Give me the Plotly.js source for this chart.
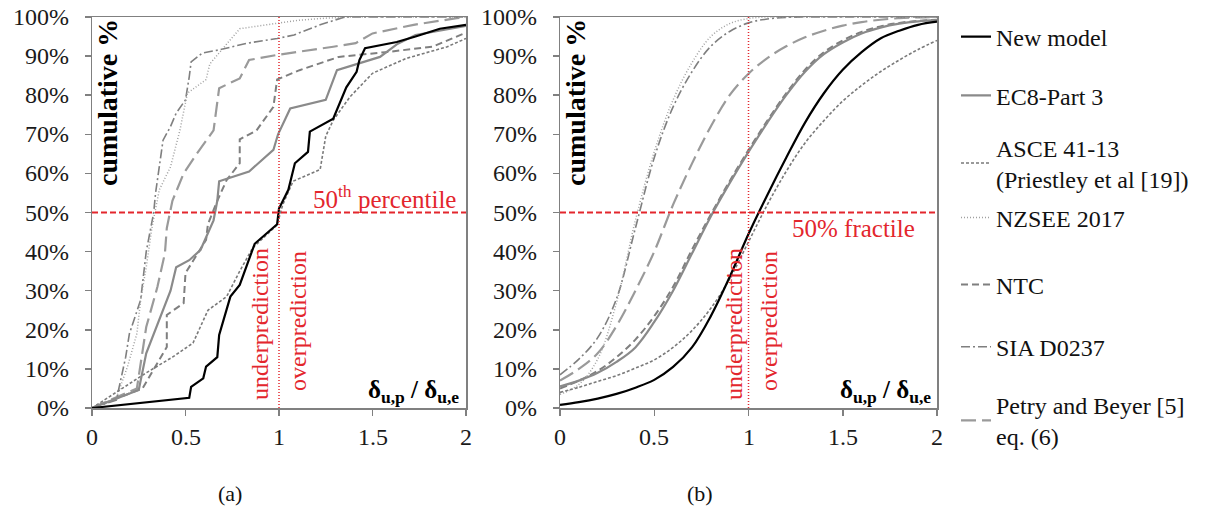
<!DOCTYPE html>
<html>
<head>
<meta charset="utf-8">
<script src="https://cdn.plot.ly/plotly-3.0.1.min.js"></script>
<style>html,body{margin:0;padding:0;background:#fff;}#chart{width:1215px;height:515px;}</style>
</head>
<body>
<div id="chart"></div>
<script>
// ---------- Data ----------
const seriesNames = ["New model", "EC8-Part 3", "ASCE 41-13<br>(Priestley et al [19])", "NZSEE 2017", "NTC", "SIA D0237", "Petry and Beyer [5]<br>eq. (6)"];
const xTickVals = [0, 0.5, 1, 1.5, 2];
const xTickText = ["0", "0.5", "1", "1.5", "2"];
const yTickVals = [0, 10, 20, 30, 40, 50, 60, 70, 80, 90, 100];
const yTickText = ["0%", "10%", "20%", "30%", "40%", "50%", "60%", "70%", "80%", "90%", "100%"];
const refRatio = 1;      // δu,p/δu,e = 1
const refFractile = 50;  // 50 %

// Panel (a): empirical cumulative distributions
const newModelA_x = [0, 0.52, 0.53, 0.595, 0.61, 0.67, 0.68, 0.74, 0.79, 0.87, 0.99, 1.0, 1.05, 1.085, 1.155, 1.165, 1.29, 1.36, 1.415, 1.43, 1.46, 1.63, 1.73, 1.86, 2.0];
const newModelA_y = [0, 2.6, 5.4, 7.6, 10.6, 13, 18.7, 28.5, 31.5, 42, 47, 51, 55.8, 62.6, 65.5, 70.7, 74, 82, 86, 89, 92, 93.6, 95, 97, 98];
const ec8A_x = [0, 0.25, 0.29, 0.36, 0.42, 0.45, 0.52, 0.58, 0.65, 0.67, 0.68, 0.84, 0.97, 0.995, 1.06, 1.25, 1.31, 1.54, 1.63, 1.73, 2.0];
const ec8A_y = [0, 4.6, 14, 22.5, 30, 36, 37.8, 40.4, 48, 53, 58, 60.5, 66, 70, 76.6, 78.8, 86.4, 89.8, 93, 95.4, 97.7];
const asceA_x = [0, 0.29, 0.43, 0.54, 0.62, 0.72, 0.79, 0.86, 0.99, 1.02, 1.075, 1.22, 1.25, 1.29, 1.38, 1.5, 1.68, 1.9, 2.0];
const asceA_y = [0, 9, 13, 16.6, 25, 28.5, 35, 41, 46.8, 52, 58, 61, 69.5, 73.6, 79.6, 85.6, 89.4, 92.4, 94.5];
const nzseeA_x = [0, 0.13, 0.19, 0.24, 0.26, 0.29, 0.32, 0.35, 0.36, 0.42, 0.47, 0.51, 0.61, 0.63, 0.79, 0.99, 1.11, 1.25, 1.4, 2.0];
const nzseeA_y = [0, 2.5, 10.6, 19, 27.6, 36, 46, 53, 55.8, 61.7, 71, 80.5, 84, 88, 97, 98.4, 99.2, 99.7, 100, 100];
const ntcA_x = [0, 0.27, 0.40, 0.40, 0.49, 0.5, 0.61, 0.62, 0.67, 0.72, 0.79, 0.79, 0.88, 0.97, 0.99, 1.11, 1.32, 1.57, 1.82, 1.93, 2.0];
const ntcA_y = [0, 5, 15.6, 23.8, 26.8, 34.5, 43, 47, 53, 58.3, 62.6, 68.7, 71, 77, 84, 86.4, 89.8, 91, 92.4, 94.5, 96];
const siaA_x = [0, 0.13, 0.18, 0.2, 0.26, 0.29, 0.33, 0.34, 0.38, 0.42, 0.45, 0.5, 0.52, 0.53, 0.59, 0.68, 0.83, 0.99, 1.08, 1.22, 1.35, 2.0];
const siaA_y = [0, 2, 13, 19, 27.6, 40, 50, 55, 68.5, 72, 75.4, 78.8, 84.7, 88.5, 90.8, 91.6, 93.3, 94.5, 95.4, 98, 100, 100];
const petryA_x = [0, 0.24, 0.29, 0.35, 0.39, 0.40, 0.43, 0.49, 0.56, 0.65, 0.68, 0.79, 0.84, 0.99, 1.29, 1.41, 1.5, 1.72, 1.95, 2.0];
const petryA_y = [0, 5, 20.7, 31, 39.6, 46, 53, 60, 65, 71, 81.8, 84.3, 89, 90.3, 92.4, 93.3, 95.8, 98, 99.7, 100];

// Panel (b): fitted cumulative distributions
const ratioB = [0, 0.1, 0.2, 0.3, 0.4, 0.5, 0.6, 0.7, 0.8, 0.9, 1.0, 1.1, 1.2, 1.3, 1.4, 1.5, 1.6, 1.7, 1.8, 1.9, 2.0];
const newModelB = [0.8, 1.5, 2.4, 3.6, 5.2, 7.2, 10.5, 15.5, 23.5, 33.5, 44.5, 54.5, 64, 73, 80.5, 86.5, 91, 94.5, 96.5, 98, 98.8];
const ec8B = [5.5, 7, 9, 11.8, 15.5, 22, 30, 39.5, 49, 57.5, 65.5, 73, 80, 86, 90.5, 93.5, 95.8, 97.3, 98.3, 98.9, 99.2];
const asceB = [4, 5.3, 6.8, 8.3, 10.2, 12.3, 15.5, 19.8, 25.5, 33, 42.5, 52, 60.5, 67.8, 73.5, 78.5, 82.5, 86, 89, 91.7, 94];
const nzseeB = [3.5, 6, 12.5, 27, 48, 65.5, 78.8, 88.3, 95, 98.3, 99.6, 100, 100, 100, 100, 100, 100, 100, 100, 100, 100];
const ntcB = [5, 7, 9.5, 13, 17.5, 23.5, 31, 40.5, 49.5, 58, 66, 73.5, 80.5, 86.5, 91, 94, 96.2, 97.6, 98.5, 99, 99.3];
const siaB = [8.5, 12.5, 18, 28, 46, 64, 77, 86, 92.5, 96.3, 98.5, 99.5, 99.9, 100, 100, 100, 100, 100, 100, 100, 100];
const petryB = [7, 10, 14, 21, 30, 40, 52, 62.5, 72, 80, 85.5, 89.5, 92.5, 94.8, 96.5, 97.8, 98.7, 99.3, 99.7, 99.9, 100];

// ---------- Styles ----------
const styles = [
  {color: "#000000", width: 2.2, dash: "solid"},
  {color: "#8a8a8a", width: 2.2, dash: "solid"},
  {color: "#7a7a7a", width: 1.6, dash: "3px,2px"},
  {color: "#a0a0a0", width: 1.5, dash: "1px,2px"},
  {color: "#7f7f7f", width: 2, dash: "7px,4px"},
  {color: "#7f7f7f", width: 1.6, dash: "9px,3px,2px,3px"},
  {color: "#9a9a9a", width: 2.2, dash: "15px,6px"}
];
const dataA = [[newModelA_x, newModelA_y], [ec8A_x, ec8A_y], [asceA_x, asceA_y], [nzseeA_x, nzseeA_y], [ntcA_x, ntcA_y], [siaA_x, siaA_y], [petryA_x, petryA_y]];
const dataB = [newModelB, ec8B, asceB, nzseeB, ntcB, siaB, petryB];
const drawOrder = [6, 5, 4, 3, 2, 1, 0];
const legendIds = ["legend", "legend2", "legend3", "legend4", "legend5", "legend6", "legend7"];
const legendY = [0.928, 0.814, 0.683, 0.577, 0.447, 0.326, 0.183];

const traces = [];
drawOrder.forEach(i => {
  traces.push({
    x: dataA[i][0], y: dataA[i][1], xaxis: "x", yaxis: "y", mode: "lines",
    name: seriesNames[i], legend: legendIds[i], showlegend: true,
    line: {color: styles[i].color, width: styles[i].width, dash: styles[i].dash}, hoverinfo: "skip"
  });
});
drawOrder.forEach(i => {
  traces.push({
    x: ratioB, y: dataB[i], xaxis: "x2", yaxis: "y2", mode: "lines",
    name: seriesNames[i], showlegend: false,
    line: {color: styles[i].color, width: styles[i].width, dash: styles[i].dash, shape: "spline", smoothing: 1}, hoverinfo: "skip"
  });
});

const serif = '"Liberation Serif", "Times New Roman", serif';
const red = "#e3262d";
const tickFont = {family: serif, size: 24, color: "#1a1a1a"};
const axisCommon = {
  showgrid: false, zeroline: false, showline: true, linecolor: "#808080", linewidth: 1.5, mirror: true,
  ticks: "outside", ticklen: 6, tickcolor: "#808080", tickwidth: 1.5,
  tickfont: tickFont, fixedrange: true, showticklabels: false
};
const xAx = Object.assign({}, axisCommon, {range: [0, 2], tickmode: "array", tickvals: xTickVals, ticktext: xTickText});
const yAx = Object.assign({}, axisCommon, {range: [0, 100], tickmode: "array", tickvals: yTickVals, ticktext: yTickText});

const layout = {
  width: 1215, height: 515, margin: {l: 0, r: 0, t: 0, b: 0},
  font: {family: serif},
  paper_bgcolor: "#ffffff", plot_bgcolor: "#ffffff", showlegend: true,
  xaxis: Object.assign({}, xAx, {domain: [92/1215, 466/1215], anchor: "y"}),
  yaxis: Object.assign({}, yAx, {domain: [1 - 408/515, 1 - 17/515], anchor: "x"}),
  xaxis2: Object.assign({}, xAx, {domain: [560/1215, 937/1215], anchor: "y2"}),
  yaxis2: Object.assign({}, yAx, {domain: [1 - 408/515, 1 - 17/515], anchor: "x2"}),
  shapes: [],
  annotations: []
};
legendIds.forEach((id, i) => {
  layout[id] = {x: 956/1215, xanchor: "left", y: legendY[i], yanchor: "middle", bgcolor: "rgba(0,0,0,0)",
    font: {family: serif, size: 24, color: "#111"}, itemwidth: 30};
});
[["x", "y"], ["x2", "y2"]].forEach(([xa, ya]) => {
  layout.shapes.push({type: "line", xref: xa, yref: ya, x0: 0, x1: 2, y0: refFractile, y1: refFractile, layer: "above",
    line: {color: red, width: 1.8, dash: "6px,3px"}});
  layout.shapes.push({type: "line", xref: xa, yref: ya, x0: refRatio, x1: refRatio, y0: 0, y1: 100, layer: "above",
    line: {color: red, width: 1.5, dash: "1px,2px"}});
});
function ann(text, x, y, opts) {
  return Object.assign({text: text, xref: "paper", yref: "paper", x: x, y: y, showarrow: false,
    xanchor: "center", yanchor: "middle", font: {family: serif, size: 24, color: "#111"}}, opts || {});
}
const A = layout.annotations;
// tick labels, placed through the axes' own scales
["x", "x2"].forEach(xa => {
  xTickVals.forEach((v, k) => {
    A.push({text: xTickText[k], xref: xa, yref: "paper", x: v, y: 1 - 437/515, showarrow: false,
      xanchor: "center", yanchor: "middle", font: tickFont});
  });
});
[["y", 71], ["y2", 539]].forEach(([ya, px]) => {
  yTickVals.forEach((v, k) => {
    A.push({text: yTickText[k], xref: "paper", yref: ya, x: px/1215, y: v, showarrow: false,
      xanchor: "right", yanchor: "middle", font: tickFont});
  });
});
A.push(ann("<b>cumulative %</b>", 108/1215, 1 - 103/515, {textangle: -90, font: {family: serif, size: 28, color: "#000"}}));
A.push(ann("<b>cumulative %</b>", 576/1215, 1 - 103/515, {textangle: -90, font: {family: serif, size: 28, color: "#000"}}));
A.push(ann("50<sup>th</sup> percentile", 384/1215, 1 - 197/515, {font: {family: serif, size: 25, color: red}}));
A.push(ann("50% fractile", 853/1215, 1 - 229/515, {font: {family: serif, size: 25, color: red}}));
A.push(ann("underprediction", 260/1215, 1 - 324/515, {textangle: -90, font: {family: serif, size: 24, color: red}}));
A.push(ann("overprediction", 298/1215, 1 - 321/515, {textangle: -90, font: {family: serif, size: 24, color: red}}));
A.push(ann("underprediction", 734/1215, 1 - 324/515, {textangle: -90, font: {family: serif, size: 24, color: red}}));
A.push(ann("overprediction", 769/1215, 1 - 321/515, {textangle: -90, font: {family: serif, size: 24, color: red}}));
A.push(ann("<b>δ<sub>u,p</sub> / δ<sub>u,e</sub></b>", 413/1215, 1 - 391/515, {font: {family: serif, size: 25, color: "#000"}}));
A.push(ann("<b>δ<sub>u,p</sub> / δ<sub>u,e</sub></b>", 885/1215, 1 - 391/515, {font: {family: serif, size: 25, color: "#000"}}));
A.push(ann("(a)", 230/1215, 1 - 493/515, {font: {family: serif, size: 22, color: "#111"}}));
A.push(ann("(b)", 700/1215, 1 - 493/515, {font: {family: serif, size: 22, color: "#111"}}));

Plotly.newPlot("chart", traces, layout, {displayModeBar: false, staticPlot: true});
</script>
</body>
</html>
